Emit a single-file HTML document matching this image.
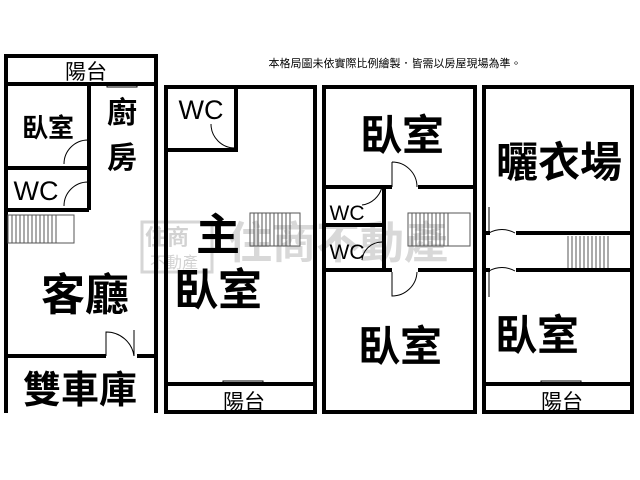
<!DOCTYPE html>
<html><head><meta charset="utf-8"><style>
html,body{margin:0;padding:0;background:#fff;}
svg{display:block;}
text{font-family:"Liberation Sans","Noto Sans CJK TC",sans-serif;fill:#000;}
.b{font-weight:bold;}
</style></head><body>
<svg width="640" height="480" viewBox="0 0 640 480" xmlns="http://www.w3.org/2000/svg">
<rect width="640" height="480" fill="#fff"/>
<g opacity="0.8">
<rect x="142" y="222" width="70" height="50" fill="none" stroke="#ccc" stroke-width="3"/>
<text x="145" y="245" font-size="22" style="fill:#c8c8c8" font-weight="bold">住商</text>
<text x="150" y="268" font-size="16" style="fill:#c8c8c8">不動產</text>
<text x="228" y="258" font-size="44" style="fill:#cfcfcf" font-weight="bold">住商不動產</text>
</g>
<g stroke="#000" fill="none" stroke-width="4">
<path d="M6 413 V56 H156 V413"/>
<line x1="6" y1="84" x2="156" y2="84"/>
<path d="M6 168 H89 M6 210 H89 M89 84 V210"/>
<line x1="6" y1="356" x2="106" y2="356"/><line x1="137" y1="356" x2="156" y2="356"/>
<rect x="166" y="87" width="149" height="325"/>
<path d="M166 150 H236 V87"/>
<line x1="166" y1="384" x2="315" y2="384"/>
<rect x="324" y="87" width="151" height="325"/>
<path d="M324 187 H392 M418 187 H475"/>
<path d="M324 225 H384 M384 187 V270"/>
<path d="M324 270 H392 M418 270 H475"/>
<rect x="484" y="87" width="148" height="325"/>
<path d="M484 233 H490 M516 233 H632"/>
<path d="M484 270 H490 M516 270 H632"/>
<line x1="484" y1="384" x2="632" y2="384"/>
</g>
<g stroke="#000" fill="none" stroke-width="1">
<path d="M88 140 V164 M88 140 A24 24 0 0 0 64 164"/>
<path d="M88 182 V206 M88 182 A24 24 0 0 0 64 206"/>
<path d="M106 356 V332 A28 28 0 0 1 134 356 M134 356 V330"/>
<path d="M235 124 V148 A24 24 0 0 1 211 124"/>
<path d="M392 162 V187 M392 162 A25 25 0 0 1 417 187"/>
<path d="M382 187 A24 24 0 0 1 362 205"/>
<path d="M382 242 A20 20 0 0 0 362 260"/>
<path d="M392 272 V296 A25 25 0 0 0 417 272"/>
<path d="M489 207 V233 A26 26 0 0 1 515 233"/>
<path d="M489 297 V271 A26 26 0 0 1 515 271"/>
<rect x="107" y="84" width="30" height="3"/>
<rect x="223" y="381" width="40" height="4"/>
<rect x="541" y="381" width="40" height="4"/>
</g>
<g stroke="#555" stroke-width="1">
<rect x="8" y="215" width="66" height="28" fill="none"/>
<path d="M12 215V243M16 215V243M20 215V243M24 215V243M28 215V243M32 215V243M36 215V243M40 215V243M44 215V243M48 215V243M52 215V243M56 215V243"/>
<rect x="250" y="213" width="50" height="33" fill="none"/>
<path d="M254 213V246M258 213V246M262 213V246M266 213V246M270 213V246M274 213V246M278 213V246M282 213V246M286 213V246M290 213V246"/>
<rect x="408" y="213" width="62" height="33" fill="none"/>
<path d="M412 213V246M416 213V246M420 213V246M424 213V246M428 213V246M432 213V246M436 213V246M440 213V246M444 213V246M448 213V246"/>
<path d="M568 236V268M572 236V268M576 236V268M580 236V268M584 236V268M588 236V268M592 236V268M596 236V268M600 236V268M604 236V268M608 236V268"/>
</g>
<text x="395" y="67" font-size="11" text-anchor="middle">本格局圖未依實際比例繪製．皆需以房屋現場為準。</text>
<text x="86" y="79" font-size="21" text-anchor="middle">陽台</text>
<text class="b" x="48" y="137" font-size="26" text-anchor="middle">臥室</text>
<text class="b" x="122" y="123" font-size="30" text-anchor="middle">廚</text>
<text class="b" x="122" y="168" font-size="30" text-anchor="middle">房</text>
<text x="36" y="200" font-size="27" text-anchor="middle">WC</text>
<text class="b" x="85" y="310" font-size="44" text-anchor="middle">客廳</text>
<text class="b" x="80" y="403" font-size="38" text-anchor="middle">雙車庫</text>
<text x="201" y="119" font-size="27" text-anchor="middle">WC</text>
<text class="b" x="218" y="250" font-size="44" text-anchor="middle">主</text>
<text class="b" x="218" y="305" font-size="44" text-anchor="middle">臥室</text>
<text x="244" y="409" font-size="21" text-anchor="middle">陽台</text>
<text class="b" x="402" y="150" font-size="42" text-anchor="middle">臥室</text>
<text x="347" y="220" font-size="21" text-anchor="middle">WC</text>
<text x="347" y="259" font-size="21" text-anchor="middle">WC</text>
<text class="b" x="400" y="361" font-size="42" text-anchor="middle">臥室</text>
<text class="b" x="559" y="177" font-size="42" text-anchor="middle">曬衣場</text>
<text class="b" x="537" y="350" font-size="42" text-anchor="middle">臥室</text>
<text x="562" y="409" font-size="21" text-anchor="middle">陽台</text>
</svg>
</body></html>
